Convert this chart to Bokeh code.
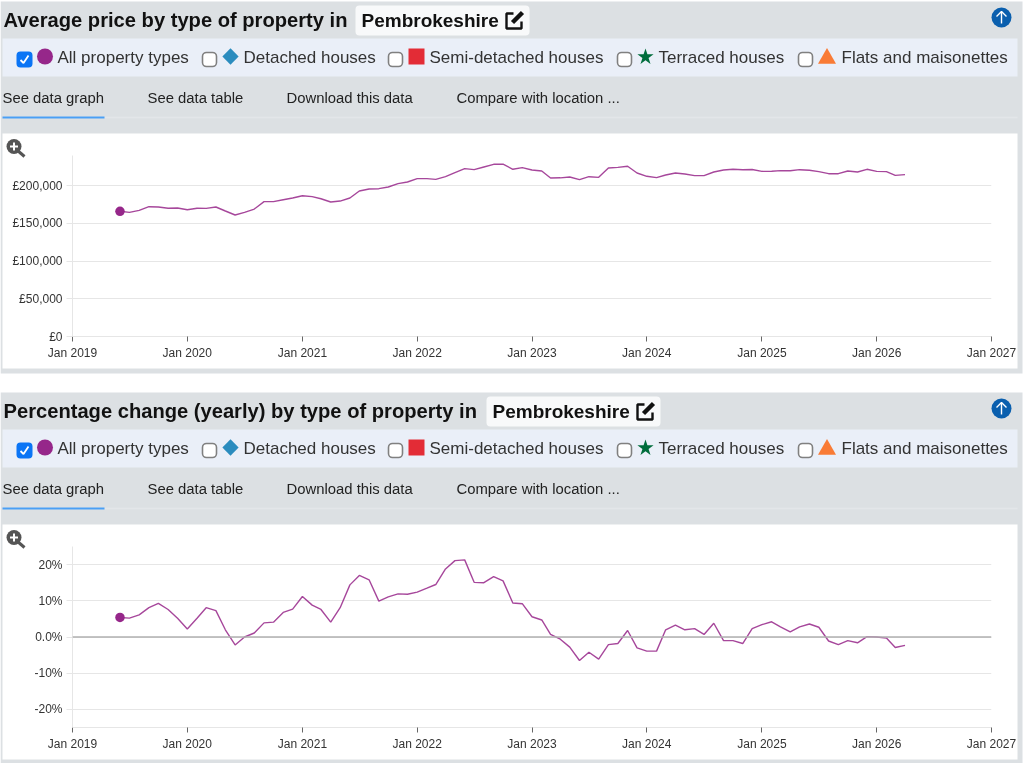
from datetime import datetime
from math import pi
from bokeh.embed import file_html
from bokeh.resources import INLINE
from bokeh.plotting import figure
from bokeh.layouts import column
from bokeh.models import (Range1d, FixedTicker, DatetimeAxis, DatetimeTickFormatter,
                          LinearAxis, Span, Grid)
from bokeh.core.properties import value

# ---- data ---------------------------------------------------------------
start_year, start_month = 2019, 6
price = [166000,164600,167300,172100,171700,170100,170400,168100,170100,169900,171700,166400,
 161100,164600,169000,178800,178800,181400,183600,186700,185400,182700,178300,179600,183600,
 192900,195600,196000,198200,202700,204900,209300,209300,208400,211900,217300,222600,221200,
 224800,228300,228500,221700,223900,220800,219500,210200,210400,211500,208000,211900,211000,
 223500,224300,225700,216800,212400,210600,214200,216800,215500,213300,213300,218100,220800,
 221700,221200,221500,219000,219200,219900,219700,221200,220400,218600,215900,215900,219500,
 218100,221700,219000,218600,213700,214600]
pct = [5.4,5.2,6.1,8.1,9.3,7.6,5.2,2.2,5.2,8.1,7.3,2.0,-2.2,0.0,1.1,3.9,4.1,6.8,7.7,11.2,8.8,7.6,
 4.1,8.1,14.4,17.0,15.8,9.9,11.1,11.9,11.8,12.4,13.5,14.5,18.8,21.1,21.3,15.1,15.0,16.7,15.5,
 9.4,9.2,5.6,4.7,0.7,-0.6,-2.8,-6.5,-4.2,-6.1,-2.1,-1.8,1.8,-3.0,-3.9,-3.9,2.0,3.3,2.0,2.3,0.7,
 3.8,-1.0,-1.0,-1.8,2.3,3.4,4.2,2.8,1.4,2.8,3.6,2.7,-1.1,-2.1,-1.0,-1.6,0.1,0.0,-0.3,-2.9,-2.3]
tick_years = [2019,2020,2021,2022,2023,2024,2025,2026,2027]
price_ticks = [0,50000,100000,150000,200000]
price_labels = {0:"£0",50000:"£50,000",100000:"£100,000",150000:"£150,000",200000:"£200,000"}
pct_ticks = [-20,-10,0,10,20]
pct_labels = {20:"20%",10:"10%",0:"0.0%",-10:"-10%",-20:"-20%"}
titles = ["Average price by type of property in", "Percentage change (yearly) by type of property in"]
place = "Pembrokeshire"
legend = ["All property types","Detached houses","Semi-detached houses","Terraced houses","Flats and maisonettes"]
tabs = ["See data graph","See data table","Download this data","Compare with location ..."]

months = []
for i in range(len(price)):
    m = start_month - 1 + i
    months.append(datetime(start_year + m // 12, m % 12 + 1, 1))

FONT = "Liberation Sans"
PANEL = "#dce0e3"
PURPLE = "#96278a"

# ---- page furniture, in page pixels ---------------------------------------
bg = figure(width=1024, height=763, x_range=Range1d(0,1024), y_range=Range1d(763,0),
            output_backend="svg", toolbar_location=None, min_border=0,
            x_axis_type=None, y_axis_type=None,
            outline_line_color=None, background_fill_alpha=0, border_fill_alpha=0)
bg.grid.visible = False

def txt(x, y, s, size, color="#222222", bold=False):
    bg.text([x],[y],text=[s],text_font=value(FONT),text_font_size=f"{size}px",
            text_color=color,text_baseline="middle",
            text_font_style="bold" if bold else "normal")

def box(l,t,r,b,fill,line=None,radius=0,lw=1):
    bg.quad(left=[l],right=[r],top=[t],bottom=[b],fill_color=fill,line_color=line,
            line_width=lw,border_radius=radius)

def panel(dy, title, title_w):
    box(0,1+dy,1022,373+dy,PANEL)
    box(2,38+dy,1017,76+dy,"#eaeff8")
    box(2,133+dy,1017,368+dy,"#ffffff")
    txt(3,19+dy,title,20.15,"#111111",True)
    x0 = title_w
    box(x0,5+dy,x0+174,35+dy,"#f8f9fa",radius=4)
    txt(x0+6,20+dy,place,19,"#111111",True)
    # edit icon
    ix = x0+150
    bg.line([ix+8,ix+1,ix+1,ix+16,ix+16],[13+dy,13+dy,28+dy,28+dy,21+dy],line_color="#111111",line_width=2.4)
    bg.line([ix+7,ix+17],[22+dy,12+dy],line_color="#111111",line_width=4.5)
    # up button
    bg.circle([1001],[17+dy],radius=10,fill_color="#0a5fae",line_color=None)
    bg.line([1001,1001],[23+dy,11+dy],line_color="#ffffff",line_width=1.4)
    bg.line([996,1001,1006],[16+dy,11+dy,16+dy],line_color="#ffffff",line_width=1.4)
    # legend
    cbx = [24,209,395,624,805]
    mkx = [44.5,230,416,645,826.5]
    mky = [56,56,56,56.5,58]
    tx = [57,243,429,658,841]
    mk = ["circle","square","square","star","triangle"]
    ang = [0,pi/4,0,0,0]
    col = [PURPLE,"#2b8cbe","#e32c36","#006d3c","#f97b35"]
    siz = [16,11.5,16,17,18]
    for i in range(5):
        if i == 0:
            box(cbx[i]-8,51+dy,cbx[i]+8,67+dy,"#0b75f5",radius=4)
            bg.line([cbx[i]-4,cbx[i]-1,cbx[i]+4],[59.5+dy,62.5+dy,55+dy],line_color="#ffffff",line_width=1.8)
        else:
            box(cbx[i]-7,52+dy,cbx[i]+7,66+dy,"#ffffff","#808080",radius=4,lw=1.6)
        bg.scatter([mkx[i]],[mky[i]+dy],marker=mk[i],size=siz[i],angle=ang[i],fill_color=col[i],line_color=None)
        txt(tx[i],57+dy,legend[i],17,"#333333")
    # tabs
    tabx = [2,147,286,456]
    for i in range(4):
        txt(tabx[i],97+dy,tabs[i],14.85,"#222222")
    bg.line([2,1017],[117+dy,117+dy],line_color="#e3e6e9",line_width=1.5)
    bg.line([2,104],[117+dy,117+dy],line_color="#4a9ff5",line_width=2)
    # zoom icon
    bg.line([17,24],[150+dy,156+dy],line_color="#555555",line_width=3)
    bg.circle([13.5],[146+dy],radius=7.5,fill_color="#555555",line_color=None)
    bg.line([9.5,17.5],[146+dy,146+dy],line_color="#ffffff",line_width=2)
    bg.line([13.5,13.5],[142+dy,150+dy],line_color="#ffffff",line_width=2)

panel(0,titles[0],355)
panel(391,titles[1],486)

# ---- the two charts --------------------------------------------------------
x_ticks = [datetime(y,1,1) for y in tick_years]

def chart(top, frame_top, frame_bottom, y0, y1, ticks, overrides):
    canvas_h = 235
    p = figure(width=1015, height=canvas_h, output_backend="svg", toolbar_location=None,
               x_range=Range1d(x_ticks[0],x_ticks[-1]), y_range=Range1d(y0,y1),
               x_axis_type=None, y_axis_type=None,
               min_border_left=70, min_border_right=26,
               min_border_top=frame_top-top, min_border_bottom=top+canvas_h-frame_bottom,
               outline_line_color=None, background_fill_alpha=0, border_fill_alpha=0)
    p.styles = {"position":"fixed","left":"2px","top":f"{top}px"}
    xa = DatetimeAxis(ticker=FixedTicker(ticks=[d.timestamp()*1000 for d in x_ticks]),
                      formatter=DatetimeTickFormatter(days="%b %Y",months="%b %Y",years="%b %Y"))
    ya = LinearAxis(ticker=FixedTicker(ticks=ticks), major_label_overrides=overrides)
    for a in (xa,ya):
        a.major_label_text_font = FONT
        a.major_label_text_font_size = "12px"
        a.major_label_text_color = "#333333"
        a.minor_tick_line_color = None
        a.axis_line_color = "#e6e6e6"
        a.major_tick_in = 0
        a.major_label_standoff = 4
    xa.major_tick_out = 5
    xa.major_tick_line_color = "#666666"
    ya.major_tick_out = 6
    ya.major_tick_line_color = "#e6e6e6"
    p.add_layout(xa,"below")
    p.add_layout(ya,"left")
    p.add_layout(Grid(dimension=1,ticker=ya.ticker,grid_line_color="#e6e6e6",grid_line_width=1))
    return p

c1 = chart(133,155,336,0,240000,price_ticks,price_labels)
c1.line(months,price,line_color=PURPLE,line_width=1.4,line_alpha=0.85)
c1.scatter([months[0]],[price[0]],marker="circle",size=9.5,fill_color=PURPLE,line_color=None)

c2 = chart(524,546,727,-25,25,pct_ticks,pct_labels)
c2.add_layout(Span(location=0,dimension="width",line_color="#b0b0b0",line_width=1.6))
c2.line(months,pct,line_color=PURPLE,line_width=1.4,line_alpha=0.85)
c2.scatter([months[0]],[pct[0]],marker="circle",size=9.5,fill_color=PURPLE,line_color=None)

bg.styles = {"position":"fixed","left":"0px","top":"0px"}
page = column(column(bg),column(c1),column(c2))
open("out.html","w").write(file_html(page,INLINE))
